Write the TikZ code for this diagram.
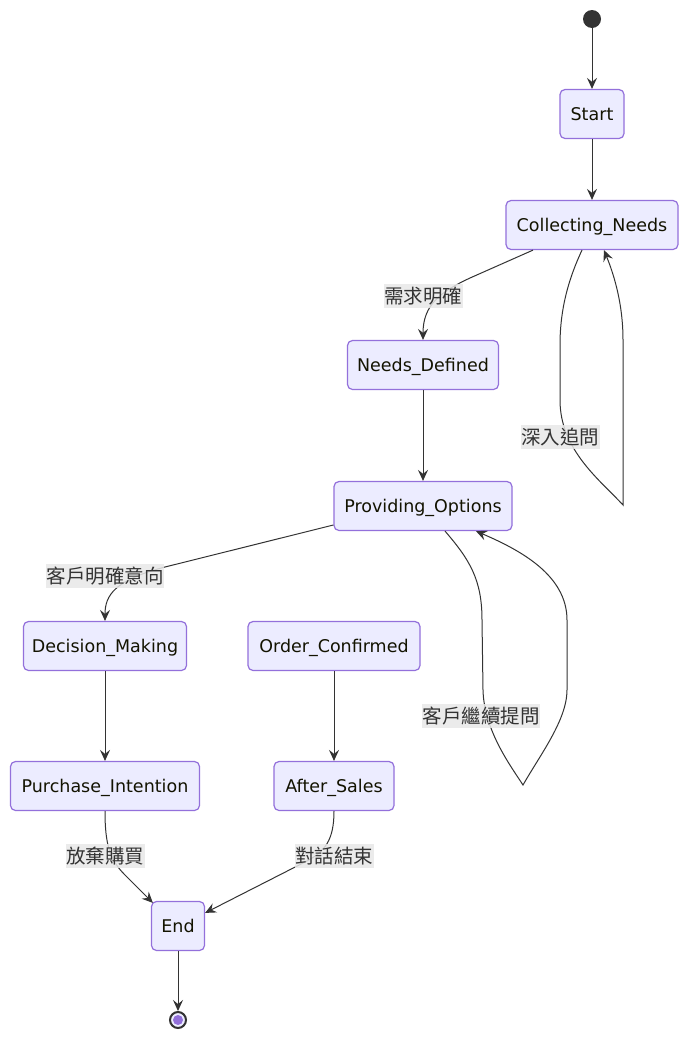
\documentclass[tikz,border=0pt]{standalone}
\usepackage{fontspec}
\setmainfont{DejaVu Sans}
\newfontfamily\cjk{Noto Sans CJK TC}
\usetikzlibrary{arrows.meta}
\definecolor{nodefill}{HTML}{ECECFF}
\definecolor{nodeline}{HTML}{9370DB}
\definecolor{edgecol}{HTML}{333333}
\definecolor{labfill}{HTML}{E8E8E8}
\definecolor{txt}{HTML}{131300}
\tikzset{
  state/.style={draw=nodeline, fill=nodefill, line width=1.2pt, rounded corners=5pt,
    minimum height=49pt, inner xsep=0pt, text=txt, text height=12.8pt, text depth=0pt,
    font=\fontsize{17.5}{20}\selectfont},
  edge/.style={draw=edgecol, line width=1pt, -{Stealth[length=11pt,width=10pt,inset=4pt]}},
  elabel/.style={fill=labfill, fill opacity=0.85, text opacity=1, text=edgecol,
    inner xsep=0.5pt, inner ysep=3pt, font=\cjk\fontsize{19.5}{22}\selectfont},
  initdot/.style={circle, fill=edgecol, minimum size=18pt, inner sep=0pt},
  finaldot/.style={circle, draw=edgecol, line width=2pt, fill=nodefill, minimum size=16pt, inner sep=0pt},
}
\begin{document}
\begin{tikzpicture}[x=1pt,y=-1pt]
\useasboundingbox[fill=white] (0,0) rectangle (695,1039);
% nodes
\node[initdot] (s0) at (592,19) {};
\node[state, minimum width=64pt] (start) at (592,114) {Start};
\node[state, minimum width=172pt] (cn) at (592,225) {Collecting\_Needs};
\node[state, minimum width=151pt] (nd) at (423,365) {Needs\_Defined};
\node[state, minimum width=178pt] (po) at (423,506) {Providing\_Options};
\node[state, minimum width=163pt] (dm) at (105,646) {Decision\_Making};
\node[state, minimum width=172pt] (oc) at (334,646) {Order\_Confirmed};
\node[state, minimum width=189pt] (pi) at (105,786) {Purchase\_Intention};
\node[state, minimum width=120pt] (as) at (334,786) {After\_Sales};
\node[state, minimum width=53pt] (end) at (178,926) {End};
\node[finaldot] (s1) at (178,1020) {};
\fill[nodeline] (s1.center) circle (5pt);
% edges
\draw[edge] (s0) -- (start);
\draw[edge] (start) -- (cn);
\draw[edge] ([xshift=-59pt]cn.south) -- (470,278) .. controls (440,292) and (423,305) .. (nd.north);
\draw[edge] ([xshift=-10pt]cn.south) .. controls (568,280) and (560,310) .. (560,345) -- (560,400)
  .. controls (560,450) and (600,480) .. (623,505) -- (623,340)
  .. controls (623,300) and (612,270) .. ([xshift=12pt]cn.south);
\draw[edge] (nd) -- (po);
\draw[edge] ([yshift=-19pt]po.west) -- (165,567) .. controls (115,580) and (105,595) .. (dm.north);
\draw[edge] ([xshift=22pt]po.south) .. controls (470,560) and (482,580) .. (482,620) -- (483,690)
  .. controls (484,730) and (510,765) .. (523,785) .. controls (540,755) and (567,720) .. (567,690)
  -- (567,620) .. controls (567,575) and (520,550) .. ([xshift=53pt]po.south);
\draw[edge] (dm) -- (pi);
\draw[edge] (oc) -- (as);
\draw[edge] (pi.south) .. controls (105,845) and (110,860) .. (125,875) -- ([xshift=2pt,yshift=-2pt]end.north west);
\draw[edge] (as.south) .. controls (334,840) and (325,852) .. (305,862) -- ([yshift=-12pt]end.north east);
\draw[edge] (end) -- (s1);
% labels
\node[elabel] (l1) at (423,296) {需求明確};
\node[elabel] (l2) at (560,437) {深入追問};
\node[elabel] (l3) at (105,576) {客戶明確意向};
\node[elabel] (l4) at (481,716) {客戶繼續提問};
\node[elabel] (l5) at (105,856) {放棄購買};
\node[elabel] (l6) at (334,856) {對話結束};
\end{tikzpicture}
\end{document}
